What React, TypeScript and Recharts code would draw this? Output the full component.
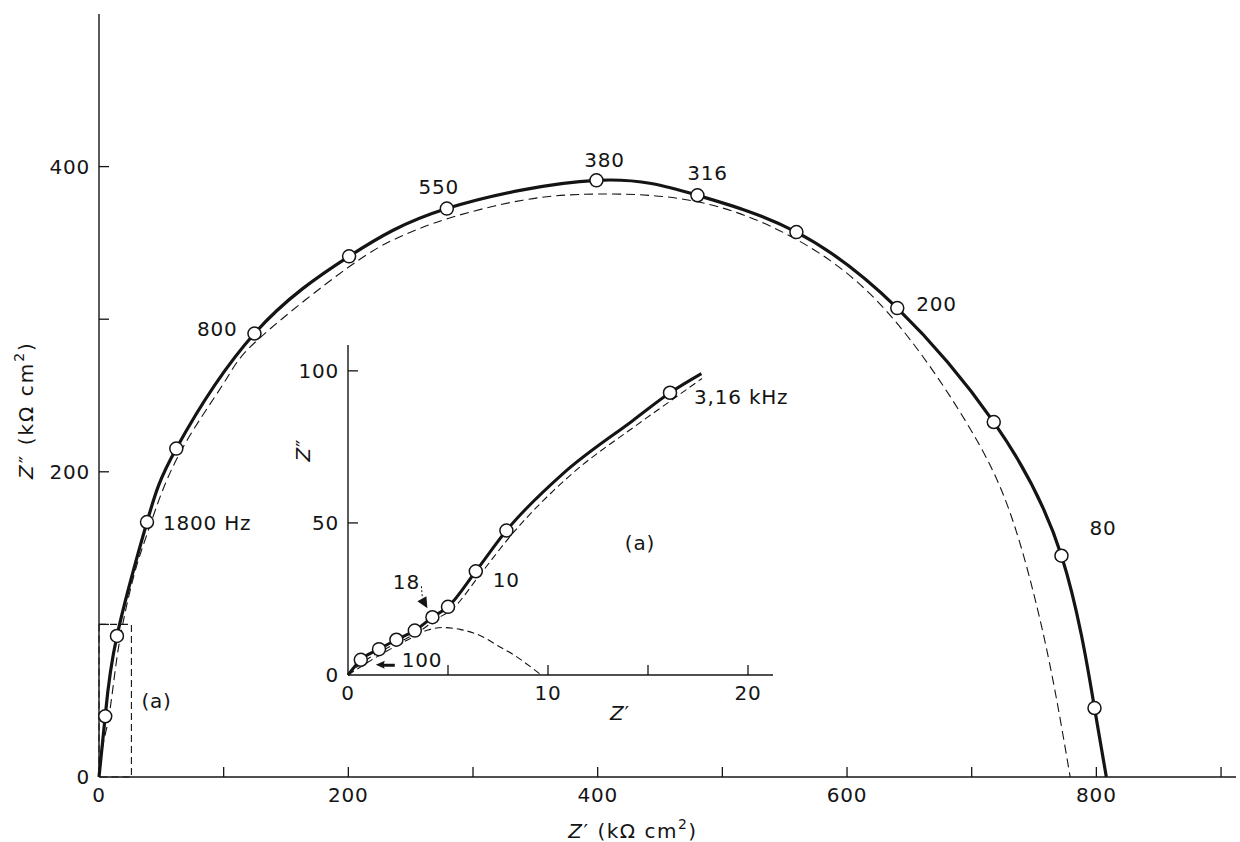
import React from "react";
import {
  ComposedChart,
  Line,
  Scatter,
  XAxis,
  YAxis,
  ReferenceArea,
  ReferenceDot,
  Label,
} from "recharts";

const INK = "#141414";
const FONT = "'DejaVu Sans', sans-serif";

// main plot, Z' / Z'' in kΩ cm²
const mainFreqX = [5, 14.4, 38.5, 62, 124.7, 200.6, 279, 399, 480, 559.4, 640.3, 717.7, 772, 798.5];
const mainFreqY = [39.8, 92.4, 167.1, 215.2, 290.6, 341.2, 372.5, 391, 381.2, 357.1, 307.3, 232.6, 145, 45.2];
const mainFreqLabels = ["", "", "1800 Hz", "", "800", "", "550", "380", "316", "", "200", "", "80", ""];

const mainSolidX = [0, 5, 14.4, 38.5, 62, 124.7, 200.6, 279, 399, 480, 559.4, 640.3, 717.7, 772, 798.5, 808];
const mainSolidY = [0, 39.8, 92.4, 167.1, 215.2, 290.6, 341.2, 372.5, 391, 381.2, 357.1, 307.3, 232.6, 145, 45.2, 0];

const mainFitX = [0, 3, 8, 13, 19, 29, 41, 64, 100, 128, 200, 241.5, 280, 340, 400, 480, 560, 632, 696, 730, 751, 766, 779];
const mainFitY = [0, 20, 40, 70, 100, 135, 165, 211, 258, 287, 334, 354, 366, 378, 382, 377, 352, 305, 232, 175, 116, 60, 0];

const mainXTicks = [0, 100, 200, 300, 400, 500, 600, 700, 800, 900];
const mainXLabeled = [0, 200, 400, 600, 800];
const mainYTicks = [0, 100, 200, 300, 400];
const mainYLabeled = [0, 200, 400];
const zoomBoxX = [0, 26];
const zoomBoxY = [0, 100];

// inset (a), same units
const insetFreqX = [0.64, 1.55, 2.42, 3.34, 4.22, 5.0, 6.39, 7.92, 16.1];
const insetFreqY = [5.0, 8.5, 11.6, 14.6, 19.0, 22.4, 34.1, 47.5, 92.8];
const insetFreqLabels = ["100", "", "", "", "18", "", "10", "", "3,16 kHz"];

const insetSolidX = [0, 0.64, 1.55, 2.42, 3.34, 4.22, 5.0, 6.39, 7.92, 10.75, 14.25, 16.1, 17.67];
const insetSolidY = [0, 5.0, 8.5, 11.6, 14.6, 19.0, 22.4, 34.1, 47.5, 66.2, 83.7, 92.8, 99.1];

const insetFitX = [0, 0.8, 1.7, 2.6, 3.5, 4.4, 5.2, 6.6, 8.2, 11.0, 14.5, 16.4, 17.7];
const insetFitY = [0, 4.5, 8, 11, 14, 18.3, 21.6, 33, 46.3, 65, 82.5, 91.4, 97.5];

const insetArcX = [0, 1.5, 3, 4, 4.7, 5.6, 6.6, 7.6, 8.3, 8.9, 9.67];
const insetArcY = [0, 6.2, 11.6, 14.8, 15.6, 15.0, 13.0, 9.2, 6.6, 3.8, 0];

const insetXTicks = [0, 5, 10, 15, 20];
const insetXLabeled = [0, 10, 20];
const insetYTicks = [0, 50, 100];
const insetNote = { x: 14.6, y: 43.3 };

const zip = (xs: number[], ys: number[], labels?: string[]) =>
  xs.map((x, i) => ({ x, y: ys[i], label: labels ? labels[i] : "" }));

const mainMarkers = zip(mainFreqX, mainFreqY, mainFreqLabels);
const mainSolid = zip(mainSolidX, mainSolidY);
const mainFit = zip(mainFitX, mainFitY);
const insetMarkers = zip(insetFreqX, insetFreqY, insetFreqLabels);
const insetSolid = zip(insetSolidX, insetSolidY);
const insetFit = zip(insetFitX, insetFitY);
const insetArc = zip(insetArcX, insetArcY);

// where each frequency label sits relative to its marker
const labelPos: Record<string, { dx: number; dy: number; anchor: string; arrow?: string }> = {
  "1800 Hz": { dx: 16, dy: 1, anchor: "start" },
  "800": { dx: -17, dy: -5, anchor: "end" },
  "550": { dx: -8, dy: -22, anchor: "middle" },
  "380": { dx: 8, dy: -20, anchor: "middle" },
  "316": { dx: 10, dy: -22, anchor: "middle" },
  "200": { dx: 19, dy: -4, anchor: "start" },
  "80": { dx: 28, dy: -28, anchor: "start" },
  "100": { dx: 41, dy: 0, anchor: "start", arrow: "left" },
  "18": { dx: -26, dy: -35, anchor: "middle", arrow: "down" },
  "10": { dx: 17, dy: 9, anchor: "start" },
  "3,16 kHz": { dx: 24, dy: 4, anchor: "start" },
};

const textProps = { fontSize: 20, fontFamily: FONT, fill: INK, letterSpacing: 0.8 };

function Marker(props: any) {
  const { cx, cy, payload } = props;
  const pos = payload && payload.label ? labelPos[payload.label] : null;
  return (
    <g>
      <circle cx={cx} cy={cy} r={6.5} fill="#fff" stroke={INK} strokeWidth={1.5} />
      {pos && (
        <text
          x={cx + pos.dx}
          y={cy + pos.dy}
          textAnchor={pos.anchor as any}
          dominantBaseline="central"
          {...textProps}
        >
          {payload.label}
        </text>
      )}
      {pos && pos.arrow === "left" && (
        <path
          d={`M${cx + 15},${cy + 5} L${cx + 24},${cy + 1} L${cx + 23},${cy + 4} L${cx + 34},${cy + 4} L${cx + 34},${cy + 7} L${cx + 23},${cy + 7} L${cx + 24},${cy + 9} Z`}
          fill={INK}
        />
      )}
      {pos && pos.arrow === "down" && (
        <g>
          <line x1={cx - 11} y1={cy - 31} x2={cx - 10} y2={cy - 19} stroke={INK} strokeWidth={1} strokeDasharray="2 2" />
          <path d={`M${cx - 5},${cy - 9} L${cx - 15},${cy - 16} L${cx - 6},${cy - 21} Z`} fill={INK} />
        </g>
      )}
    </g>
  );
}

function BottomTick({ x = 0, y = 0, payload, labeled }: any) {
  const v = payload ? payload.value : 0;
  return (
    <g>
      {v !== 0 && <line x1={x} y1={y} x2={x} y2={y - 10} stroke={INK} strokeWidth={1.3} />}
      {labeled.includes(v) && (
        <text x={x} y={y + 25} textAnchor="middle" {...textProps}>
          {v}
        </text>
      )}
    </g>
  );
}

function LeftTick({ x = 0, y = 0, payload, labeled }: any) {
  const v = payload ? payload.value : 0;
  return (
    <g>
      {v !== 0 && <line x1={x} y1={y} x2={x + 10} y2={y} stroke={INK} strokeWidth={1.3} />}
      {labeled.includes(v) && (
        <text x={x - 9} y={y + 7} textAnchor="end" {...textProps}>
          {v}
        </text>
      )}
    </g>
  );
}

export default function App() {
  return (
    <div style={{ position: "absolute", left: 0, top: 0, width: 1240, height: 842, background: "#fff" }}>
      <div style={{ position: "absolute", left: 0, top: 0 }}>
        <ComposedChart width={1240} height={842} margin={{ top: 14, right: 4, left: 0, bottom: 0 }}>
          <XAxis
            type="number"
            dataKey="x"
            domain={[0, 912]}
            ticks={mainXTicks}
            interval={0}
            height={65}
            tickSize={0}
            tickMargin={0}
            tickLine={false}
            axisLine={{ stroke: INK, strokeWidth: 1.4 }}
            tick={(p: any) => <BottomTick {...p} labeled={mainXLabeled} />}
          >
            <Label
              content={() => (
                <text x={633} y={838} textAnchor="middle" {...textProps} letterSpacing={1.5}>
                  <tspan fontStyle="italic">Z</tspan>′ (kΩ cm
                  <tspan dy={-9} fontSize={14}>2</tspan>
                  <tspan dy={9}>)</tspan>
                </text>
              )}
            />
          </XAxis>
          <YAxis
            type="number"
            dataKey="y"
            domain={[0, 500]}
            ticks={mainYTicks}
            interval={0}
            width={99}
            tickSize={0}
            tickMargin={0}
            tickLine={false}
            axisLine={{ stroke: INK, strokeWidth: 1.4 }}
            tick={(p: any) => <LeftTick {...p} labeled={mainYLabeled} />}
          >
            <Label
              content={() => (
                <text
                  transform="translate(33,410) rotate(-90)"
                  textAnchor="middle"
                  {...textProps}
                  letterSpacing={2}
                >
                  <tspan fontStyle="italic">Z</tspan>″ (kΩ cm
                  <tspan dy={-9} fontSize={14}>2</tspan>
                  <tspan dy={9}>)</tspan>
                </text>
              )}
            />
          </YAxis>
          <ReferenceArea
            x1={zoomBoxX[0]}
            x2={zoomBoxX[1]}
            y1={zoomBoxY[0]}
            y2={zoomBoxY[1]}
            fill="none"
            stroke={INK}
            strokeWidth={1.1}
            strokeDasharray="7 4"
            label={{ value: "(a)", position: "right", offset: 10, ...textProps }}
          />
          <Line
            data={mainFit}
            dataKey="y"
            type="natural"
            stroke={INK}
            strokeWidth={1.1}
            strokeDasharray="9 5"
            dot={false}
            activeDot={false}
            isAnimationActive={false}
          />
          <Line
            data={mainSolid}
            dataKey="y"
            type="natural"
            stroke={INK}
            strokeWidth={3.2}
            dot={false}
            activeDot={false}
            isAnimationActive={false}
          />
          <Scatter data={mainMarkers} shape={(p: any) => <Marker {...p} />} isAnimationActive={false} />
        </ComposedChart>
      </div>

      <div style={{ position: "absolute", left: 260, top: 330 }}>
        <ComposedChart width={600} height={400} margin={{ top: 15, right: 87, left: 0, bottom: 0 }}>
          <XAxis
            type="number"
            dataKey="x"
            domain={[0, 21.25]}
            ticks={insetXTicks}
            interval={0}
            height={55}
            tickSize={0}
            tickMargin={0}
            tickLine={false}
            axisLine={{ stroke: INK, strokeWidth: 1.4 }}
            tick={(p: any) => <BottomTick {...p} labeled={insetXLabeled} />}
          >
            <Label
              content={() => (
                <text x={360} y={390} textAnchor="middle" {...textProps}>
                  <tspan fontStyle="italic">Z</tspan>′
                </text>
              )}
            />
          </XAxis>
          <YAxis
            type="number"
            dataKey="y"
            domain={[0, 108.5]}
            ticks={insetYTicks}
            interval={0}
            width={88}
            tickSize={0}
            tickMargin={0}
            tickLine={false}
            axisLine={{ stroke: INK, strokeWidth: 1.4 }}
            tick={(p: any) => <LeftTick {...p} labeled={insetYTicks} />}
          >
            <Label
              content={() => (
                <text transform="translate(50,120) rotate(-90)" textAnchor="middle" {...textProps}>
                  <tspan fontStyle="italic">Z</tspan>″
                </text>
              )}
            />
          </YAxis>
          <ReferenceDot
            x={insetNote.x}
            y={insetNote.y}
            r={1}
            fill="none"
            stroke="none"
            label={{ value: "(a)", position: "center", ...textProps }}
          />
          <Line
            data={insetArc}
            dataKey="y"
            type="monotone"
            stroke={INK}
            strokeWidth={1.1}
            strokeDasharray="7 4"
            dot={false}
            activeDot={false}
            isAnimationActive={false}
          />
          <Line
            data={insetFit}
            dataKey="y"
            type="monotone"
            stroke={INK}
            strokeWidth={1.1}
            strokeDasharray="7 4"
            dot={false}
            activeDot={false}
            isAnimationActive={false}
          />
          <Line
            data={insetSolid}
            dataKey="y"
            type="monotone"
            stroke={INK}
            strokeWidth={3}
            dot={false}
            activeDot={false}
            isAnimationActive={false}
          />
          <Scatter data={insetMarkers} shape={(p: any) => <Marker {...p} />} isAnimationActive={false} />
        </ComposedChart>
      </div>
    </div>
  );
}
